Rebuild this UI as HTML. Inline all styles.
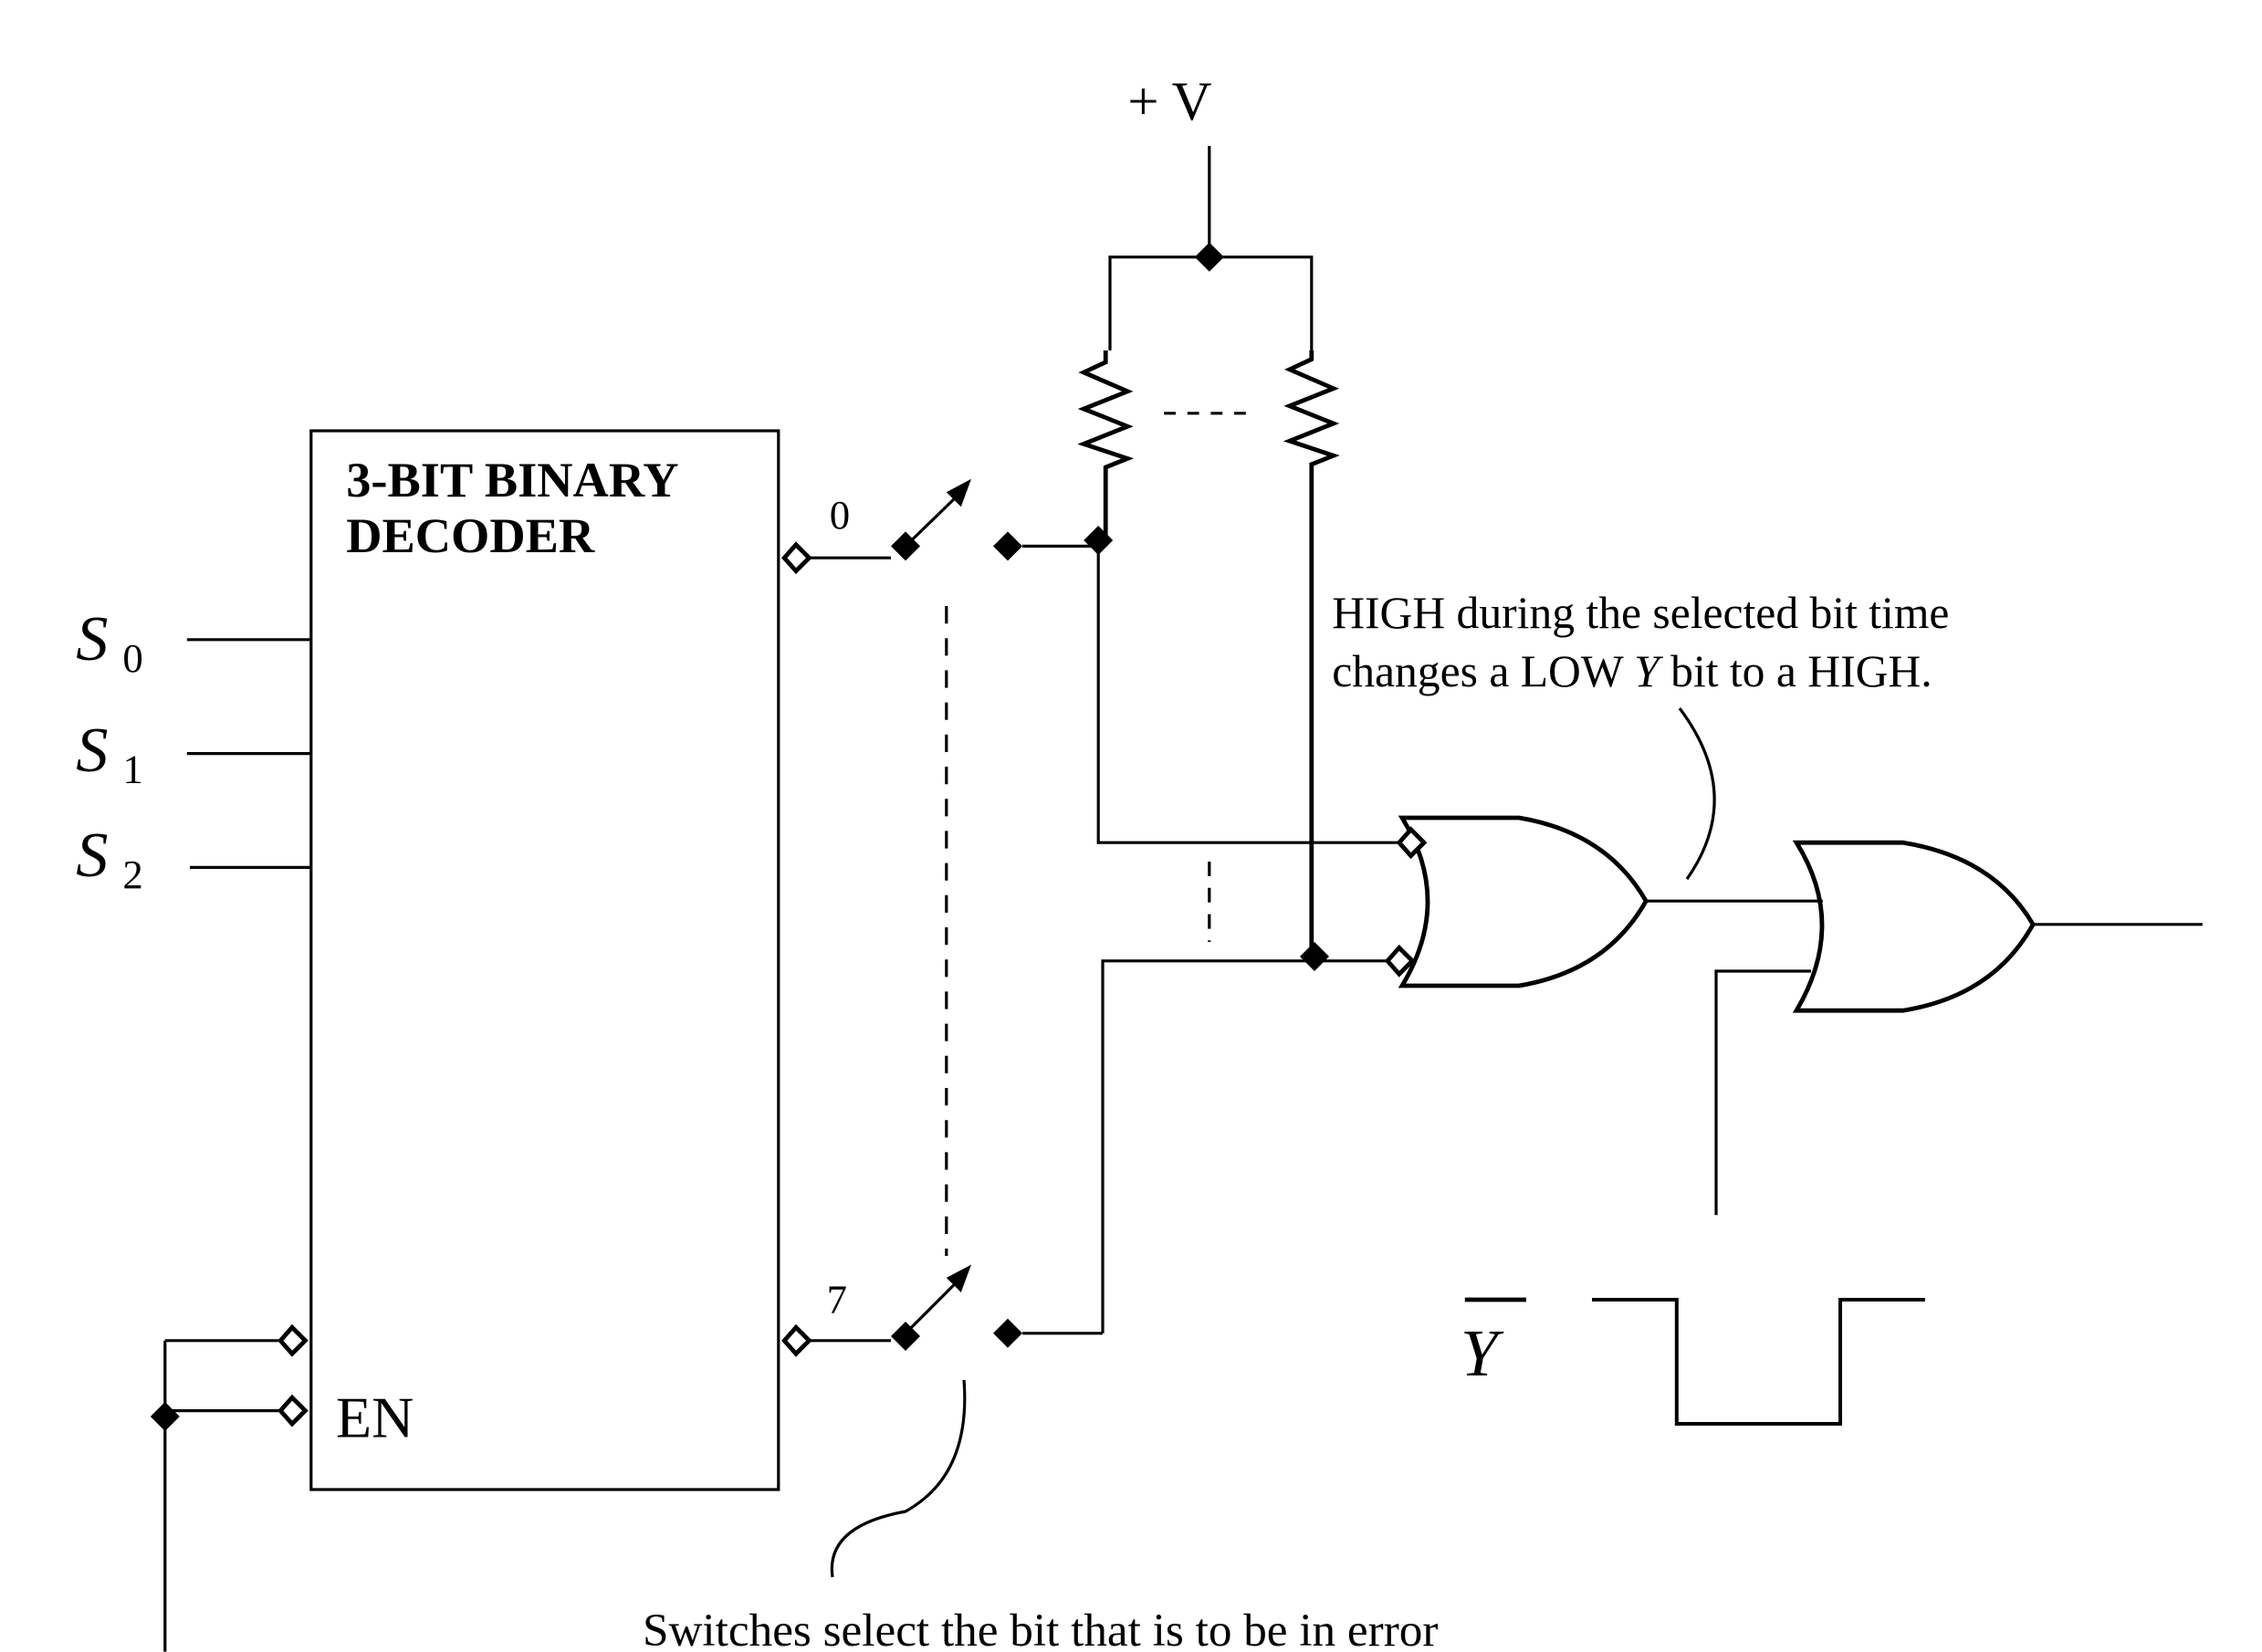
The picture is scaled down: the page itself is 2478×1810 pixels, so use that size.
<!DOCTYPE html>
<html><head><meta charset="utf-8"><style>
html,body{margin:0;padding:0;background:#fff;}
svg{display:block;}
text{font-family:"Liberation Serif",serif;fill:#000;}
</style></head><body>
<svg width="2478" height="1810" viewBox="0 0 1548.75 1131.25" preserveAspectRatio="none" xmlns="http://www.w3.org/2000/svg">
<g stroke="#000" stroke-width="2" fill="none">
<line x1="828" y1="100" x2="828" y2="176"/>
<polyline points="760,240 760,176 898,176 898,240"/>
<polyline points="757,240 757,248 742,255 772,268 742,280 772,292 742,304 772,314 757,320 757,370" stroke-width="3"/>
<polyline points="898,240 898,246 883,253 913,266 883,278 913,290 883,302 913,312 898,318 898,655" stroke-width="3"/>
<line x1="797" y1="283" x2="855" y2="283" stroke-dasharray="8,8"/>
<rect x="213" y="295" width="320" height="725"/>
<line x1="128" y1="438" x2="213" y2="438"/>
<line x1="128" y1="516" x2="213" y2="516"/>
<line x1="130" y1="594" x2="213" y2="594"/>
<line x1="555" y1="382" x2="610" y2="382"/>
<line x1="620" y1="374" x2="655" y2="340"/>
<line x1="700" y1="374" x2="752" y2="374"/>
<polyline points="752,370 752,577 958,577"/>
<line x1="555" y1="918" x2="610" y2="918"/>
<line x1="620" y1="913" x2="655" y2="878"/>
<line x1="700" y1="913" x2="755" y2="913"/>
<polyline points="755,913 755,658 950,658"/>
<line x1="648" y1="415" x2="648" y2="860" stroke-dasharray="12,10"/>
<line x1="828" y1="590" x2="828" y2="645" stroke-dasharray="10,8"/>
<path d="M960,560 L1040,560 Q1100,570 1127,617 Q1100,665 1040,675 L960,675 Q995,617 960,560 Z" stroke-width="3"/>
<line x1="1127" y1="617" x2="1248" y2="617"/>
<path d="M1230,577 L1303,577 Q1365,587 1392,633 Q1365,682 1303,692 L1230,692 Q1265,633 1230,577 Z" stroke-width="3"/>
<line x1="1392" y1="633" x2="1508" y2="633"/>
<polyline points="1175,832 1175,665 1240,665"/>
<path d="M1150,485 Q1195,545 1155,602"/>
<polyline points="1090,890 1148,890 1148,975 1260,975 1260,890 1318,890" stroke-width="2.5"/>
<line x1="1003" y1="890" x2="1045" y2="890" stroke-width="3"/>
<line x1="113" y1="918" x2="192" y2="918"/>
<line x1="113" y1="966" x2="192" y2="966"/>
<line x1="113" y1="918" x2="113" y2="1131"/>
<path d="M660,945 Q665,1010 620,1035 Q565,1045 570,1080"/>
</g>
<g stroke="#000" stroke-width="3" fill="#fff">
<polygon points="537,382 545,373 554,382 545,391"/>
<polygon points="537,918 545,909 554,918 545,927"/>
<polygon points="192,918 200,909 209,918 200,927"/>
<polygon points="192,966 200,957 209,966 200,975"/>
<polygon points="958,577 966,568 975,577 966,586"/>
<polygon points="950,658 958,649 967,658 958,667"/>
</g>
<g fill="#000">
<polygon points="818,176 828,166 838,176 828,186"/>
<polygon points="742,370 752,360 762,370 752,380"/>
<polygon points="890,655 900,645 910,655 900,665"/>
<polygon points="610,374 620,364 630,374 620,384"/>
<polygon points="680,374 690,364 700,374 690,384"/>
<polygon points="610,915 620,905 630,915 620,925"/>
<polygon points="680,913 690,903 700,913 690,923"/>
<polygon points="103,970 113,960 123,970 113,980"/>
<polygon points="665,328 648,337 658,347"/>
<polygon points="665,866 648,875 658,885"/>
</g>
<text x="772" y="82" font-size="38">+ V</text>
<text x="237" y="340" font-size="34" font-weight="bold">3-BIT BINARY</text>
<text x="237" y="378" font-size="34" font-weight="bold">DECODER</text>
<text x="52" y="452" font-size="44" font-style="italic">S</text><text x="84" y="460" font-size="28">0</text>
<text x="52" y="528" font-size="44" font-style="italic">S</text><text x="84" y="536" font-size="28">1</text>
<text x="52" y="600" font-size="44" font-style="italic">S</text><text x="84" y="608" font-size="28">2</text>
<text x="568" y="362" font-size="28">0</text>
<text x="566" y="899" font-size="28">7</text>
<text x="230" y="984" font-size="40">EN</text>
<text x="912" y="430" font-size="31">HIGH during the selected bit time</text>
<text x="912" y="470" font-size="31">changes a LOW <tspan font-style="italic">Y</tspan> bit to a HIGH.</text>
<text x="1000" y="942" font-size="46" font-style="italic">Y</text>
<text x="440" y="1127" font-size="32">Switches select the bit that is to be in error</text>
</svg>
</body></html>
